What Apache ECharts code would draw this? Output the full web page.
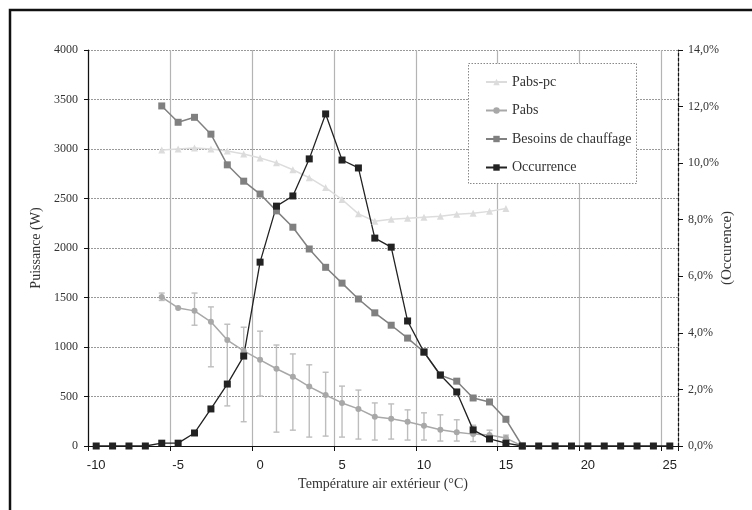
<!DOCTYPE html>
<html>
<head>
<meta charset="utf-8">
<script src="https://cdn.jsdelivr.net/npm/echarts@6/dist/echarts.min.js"></script>
<style>html,body{margin:0;padding:0;background:#fff;}#c{width:752px;height:510px;}</style>
</head>
<body>
<div id="c"></div>
<script>
// Categories (outdoor temperature, °C)
const temps = [-10,-9,-8,-7,-6,-5,-4,-3,-2,-1,0,1,2,3,4,5,6,7,8,9,10,11,12,13,14,15,16,17,18,19,20,21,22,23,24,25];
// Series values (W) for temps -10..25; null = no point
const pabsPc = [null,null,null,null,2990,3000,3010,3000,2980,2950,2910,2860,2790,2710,2610,2490,2345,2270,2290,2300,2310,2320,2340,2350,2370,2400,null,null,null,null,null,null,null,null,null,null];
const pabs = [null,null,null,null,1505,1395,1365,1255,1070,960,870,780,700,600,515,435,375,295,275,245,205,165,140,120,110,80,0,null,null,null,null,null,null,null,null,null];
const pabsLow = [null,null,null,null,1470,1395,1220,800,405,245,505,140,160,90,100,90,70,60,70,60,60,50,50,45,80,55,null,null,null,null,null,null,null,null,null,null];
const pabsHigh = [null,null,null,null,1545,1395,1545,1405,1230,1200,1160,1020,930,820,745,605,565,435,425,365,335,315,265,210,160,110,null,null,null,null,null,null,null,null,null,null];
const besoins = [null,null,null,null,3435,3270,3320,3150,2840,2675,2545,2375,2210,1990,1805,1645,1485,1345,1220,1090,950,715,655,485,445,270,0,null,null,null,null,null,null,null,null,null];
// Occurrence (%)
const occurrence = [0,0,0,0,0.1,0.1,0.46,1.31,2.19,3.18,6.5,8.48,8.84,10.15,11.74,10.11,9.83,7.35,7.03,4.42,3.32,2.51,1.91,0.57,0.25,0.1,0,0,0,0,0,0,0,0,0,0];
// Tick labels
const leftTicks = {min:0, max:4000, interval:500};
const rightTicks = {min:0, max:14, interval:2};

const serif = 'Liberation Serif';
const cats = temps.map(String);
const errData = [];
temps.forEach((t,i)=>{ if(pabsLow[i]!==null && pabsHigh[i]!==null && pabsHigh[i]>pabsLow[i]) errData.push([String(t), pabsLow[i], pabsHigh[i]]); });

const chart = echarts.init(document.getElementById('c'), null, {renderer:'canvas'});
chart.setOption({
  animation:false,
  backgroundColor:'#fff',
  grid:{left:88, right:74, top:50, bottom:64, containLabel:false, outerBoundsMode:'none'},
  graphic:[
    {type:'polyline', z:100, shape:{points:[[10,520],[10,10],[760,10]]}, style:{fill:'none', stroke:'#111', lineWidth:2.5}},
    {type:'rect', z:3, shape:{x:468.5, y:63.5, width:168, height:120}, style:{fill:'#fff', stroke:'#888', lineWidth:1, lineDash:[1.5,1.5]}}
  ],
  legend:{
    orient:'vertical', left:485, top:74, padding:0, itemGap:12.5,
    itemWidth:21, itemHeight:8, z:5,
    textStyle:{fontFamily:serif, fontSize:14, color:'#333', lineHeight:16},
    data:['Pabs-pc','Pabs','Besoins de chauffage','Occurrence']
  },
  xAxis:{
    type:'category', data:cats, boundaryGap:true,
    name:'Température air extérieur (°C)', nameLocation:'middle', nameGap:30,
    nameTextStyle:{fontFamily:serif, fontSize:14, color:'#333'},
    axisLine:{onZero:true, lineStyle:{color:'#111', width:1.2}},
    axisTick:{show:true, interval:4, length:5, lineStyle:{color:'#111'}},
    axisLabel:{interval:4, fontFamily:'Liberation Sans', fontSize:13, color:'#222', margin:13},
    splitLine:{show:true, interval:4, lineStyle:{color:'#b4b4b4', width:1.2}}
  },
  yAxis:[
    {type:'value', min:leftTicks.min, max:leftTicks.max, interval:leftTicks.interval,
     name:'Puissance (W)', nameLocation:'middle', nameGap:42,
     nameTextStyle:{fontFamily:serif, fontSize:14, color:'#333'},
     axisLine:{show:true, lineStyle:{color:'#111', width:1.2}},
     axisTick:{show:true, length:4, lineStyle:{color:'#111'}},
     axisLabel:{fontFamily:serif, fontSize:12, color:'#333', margin:10, formatter:v=>String(v)},
     splitLine:{show:true, lineStyle:{color:'#999', type:[2,1], width:1}}},
    {type:'value', min:rightTicks.min, max:rightTicks.max, interval:rightTicks.interval, position:'right',
     name:'(Occurence)', nameLocation:'middle', nameGap:42, nameMoveOverlap:false,
     nameTextStyle:{fontFamily:serif, fontSize:15, color:'#333'},
     axisLine:{show:true, lineStyle:{color:'#111', width:1.2, type:[3,2]}},
     axisTick:{show:true, length:5, lineStyle:{color:'#111'}},
     axisLabel:{fontFamily:serif, fontSize:12, color:'#333', margin:10,
       formatter:v=>v.toFixed(1).replace('.',',')+'%'},
     splitLine:{show:false}}
  ],
  series:[
    {type:'custom', name:'errbars', z:1, yAxisIndex:0, data:errData, encode:{x:0, y:[1,2]},
     renderItem:function(params, api){
       const x = api.value(0);
       const lo = api.coord([x, api.value(1)]);
       const hi = api.coord([x, api.value(2)]);
       const hw = 3;
       const st = {stroke:'#bdbdbd', lineWidth:1.4};
       return {type:'group', children:[
         {type:'line', shape:{x1:lo[0], y1:lo[1], x2:hi[0], y2:hi[1]}, style:st},
         {type:'line', shape:{x1:lo[0]-hw, y1:lo[1], x2:lo[0]+hw, y2:lo[1]}, style:st},
         {type:'line', shape:{x1:hi[0]-hw, y1:hi[1], x2:hi[0]+hw, y2:hi[1]}, style:st}
       ]};
     }},
    {type:'line', name:'Pabs-pc', data:pabsPc, yAxisIndex:0, symbol:'triangle', symbolSize:7, showAllSymbol:true,
     itemStyle:{color:'#dcdcdc'}, lineStyle:{color:'#dcdcdc', width:1.5}},
    {type:'line', name:'Pabs', data:pabs, yAxisIndex:0, symbol:'circle', symbolSize:6, showAllSymbol:true,
     itemStyle:{color:'#a8a8a8'}, lineStyle:{color:'#a8a8a8', width:1.5}},
    {type:'line', name:'Besoins de chauffage', data:besoins, yAxisIndex:0, symbol:'rect', symbolSize:7, showAllSymbol:true,
     itemStyle:{color:'#808080'}, lineStyle:{color:'#808080', width:1.5}},
    {type:'line', name:'Occurrence', data:occurrence, yAxisIndex:1, symbol:'rect', symbolSize:7, showAllSymbol:true,
     itemStyle:{color:'#222'}, lineStyle:{color:'#222', width:1.3}}
  ]
});
</script>
</body>
</html>
